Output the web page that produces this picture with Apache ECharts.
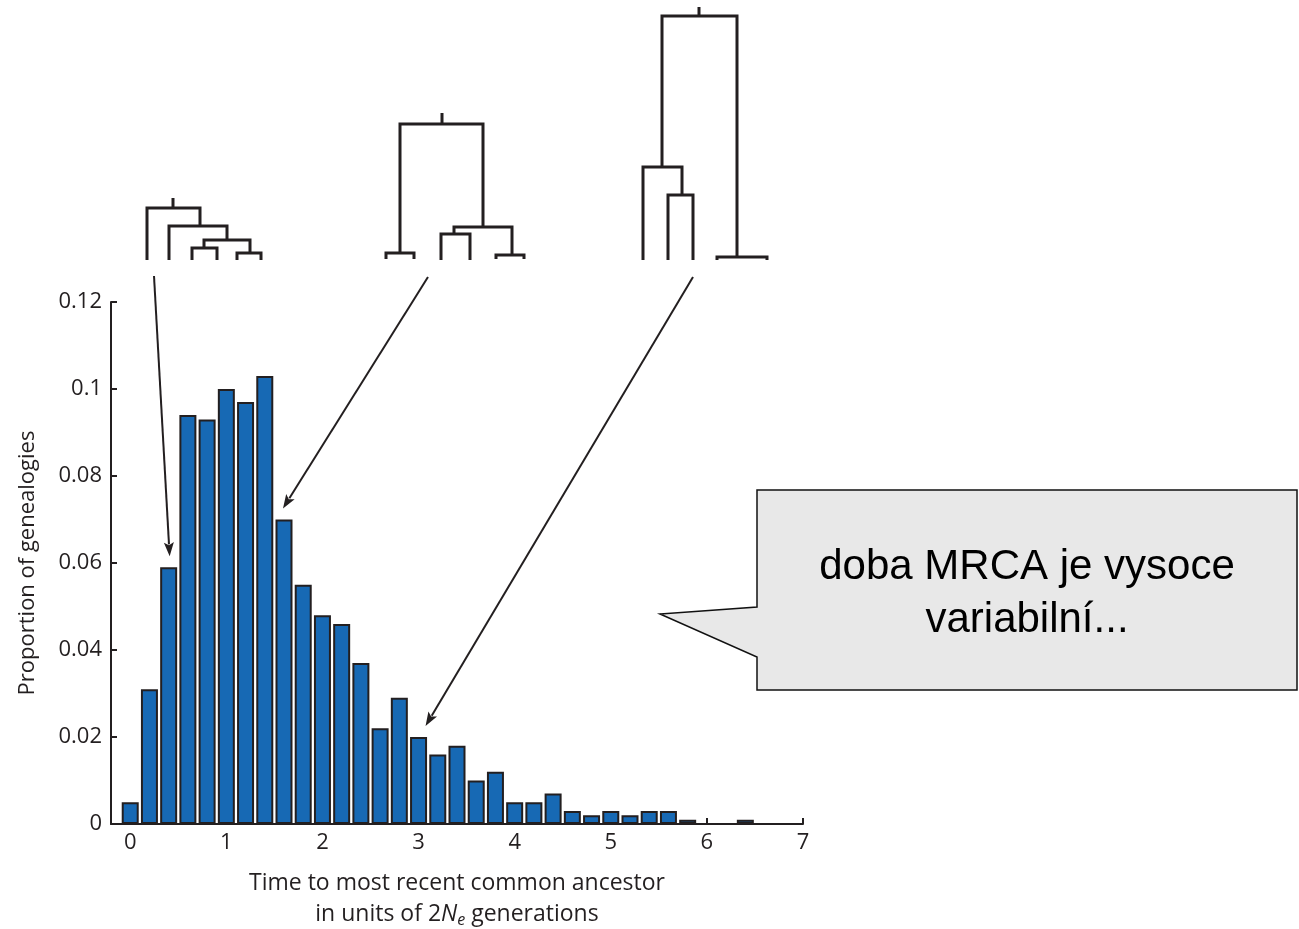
<!DOCTYPE html>
<html>
<head>
<meta charset="utf-8">
<script src="https://cdn.jsdelivr.net/npm/echarts@6/dist/echarts.min.js"></script>
<style>html,body{margin:0;padding:0;background:#fff}#c{width:1299px;height:929px}</style>
</head>
<body>
<div id="c"></div>
<script>
// ---- data ----
const binCenters = [0,0.2,0.4,0.6,0.8,1.0,1.2,1.4,1.6,1.8,2.0,2.2,2.4,2.6,2.8,3.0,3.2,3.4,3.6,3.8,4.0,4.2,4.4,4.6,4.8,5.0,5.2,5.4,5.6,5.8,6.0,6.2,6.4];
const proportions = [0.005,0.031,0.059,0.094,0.093,0.100,0.097,0.103,0.070,0.055,0.048,0.046,0.037,0.022,0.029,0.020,0.016,0.018,0.010,0.012,0.005,0.005,0.007,0.003,0.002,0.003,0.002,0.003,0.003,0.001,0,0,0.001];
const xTickValues = [0,1,2,3,4,5,6,7];
const yTickValues = [0,0.02,0.04,0.06,0.08,0.1,0.12];
const yTitle = 'Proportion of genealogies';
const calloutLines = ['doba MRCA je vysoce', 'variabilní...'];
// bins the arrows point to (index into binCenters)
const arrowTargets = [2, 8, 15];

const chart = echarts.init(document.getElementById('c'), null, {renderer: 'canvas'});
const ink = '#231f20';
const labelFont = 'Open Sans';

const barData = binCenters.map((x, i) => [x, proportions[i]]);

const option = {
  animation: false,
  backgroundColor: '#ffffff',
  grid: {left: 111, right: 496, top: 302, bottom: 105, containLabel: false, outerBoundsMode: 'none'},
  xAxis: {
    type: 'value', min: -0.2, max: 7,
    axisLine: {show: true, onZero: false, lineStyle: {color: ink, width: 2}},
    axisTick: {show: true, inside: true, length: 6, customValues: xTickValues, lineStyle: {color: ink, width: 2}},
    axisLabel: {show: true, customValues: xTickValues, color: ink, fontFamily: labelFont, fontSize: 22, margin: 8},
    splitLine: {show: false},
    name: '{a|Time to most recent common ancestor}\n{a|in units of 2}{i|N}{s|e}{a| generations}',
    nameLocation: 'middle', nameGap: 44,
    nameTextStyle: {
      color: ink, fontFamily: labelFont, fontSize: 23, lineHeight: 31,
      rich: {
        a: {fontFamily: labelFont, fontSize: 23, color: ink, lineHeight: 31},
        i: {fontFamily: labelFont, fontSize: 23, fontStyle: 'italic', color: ink, lineHeight: 31},
        s: {fontFamily: labelFont, fontSize: 16, fontStyle: 'italic', color: ink, padding: [12, 0, 0, 0], lineHeight: 31}
      }
    }
  },
  yAxis: {
    type: 'value', min: 0, max: 0.12, interval: 0.02,
    axisLine: {show: true, onZero: false, lineStyle: {color: ink, width: 2}},
    axisTick: {show: true, inside: true, length: 6, lineStyle: {color: ink, width: 2}},
    axisLabel: {color: ink, fontFamily: labelFont, fontSize: 22, margin: 9,
      formatter: v => (Math.round(v * 100) / 100).toString()},
    splitLine: {show: false},
    name: yTitle, nameLocation: 'middle', nameRotate: 90, nameGap: 72,
    nameTextStyle: {color: ink, fontFamily: labelFont, fontSize: 22}
  },
  series: [{
    type: 'bar',
    data: barData,
    barWidth: 17,
    itemStyle: {color: '#1769b4', borderColor: '#231f20', borderWidth: 2},
    z: 2
  }]
};
chart.setOption(option);

// ---- annotation graphics (trees, arrows, callout) ----
const trees = [
  [[[173,198],[173,208]], [[147,260],[147,208],[200,208],[200,226]], [[169,260],[169,226],[227,226],[227,240]],
   [[204,248],[204,240],[250,240],[250,253]], [[192,260],[192,248],[217,248],[217,260]], [[237,260],[237,253],[261,253],[261,260]]],
  [[[442,113],[442,124]], [[400,253],[400,124],[483,124],[483,227]], [[386,259],[386,253],[414,253],[414,259]],
   [[454,234],[454,227],[512,227],[512,255]], [[441,260],[441,234],[470,234],[470,260]], [[496,259],[496,255],[524,255],[524,259]]],
  [[[699,7],[699,16]], [[662,167],[662,16],[737,16],[737,257]], [[643,260],[643,167],[682,167],[682,195]],
   [[668,260],[668,195],[693,195],[693,260]], [[717,260],[717,257],[767,257],[767,260]]]
];
const arrowStarts = [[154,276],[428,277],[693,277]];
const arrowTipShift = [1, -1, 7];

const graphics = [];
trees.forEach(t => t.forEach(pts => graphics.push({
  type: 'polyline', shape: {points: pts}, style: {stroke: ink, lineWidth: 3, fill: null, lineCap: 'butt', lineJoin: 'miter'}, z: 10
})));

arrowTargets.forEach((bi, k) => {
  const tip = chart.convertToPixel({gridIndex: 0}, [binCenters[bi], proportions[bi]]);
  const ex = tip[0] + arrowTipShift[k], ey = tip[1] - 11;
  const [sx, sy] = arrowStarts[k];
  const dx = ex - sx, dy = ey - sy, L = Math.hypot(dx, dy), ux = dx / L, uy = dy / L;
  const hl = 14, hw = 5;
  const bx = ex - ux * hl, by = ey - uy * hl;
  graphics.push({type: 'line', shape: {x1: sx, y1: sy, x2: bx + ux * 2, y2: by + uy * 2}, style: {stroke: ink, lineWidth: 2}, z: 10});
  graphics.push({type: 'polygon', shape: {points: [[ex, ey], [bx - uy * hw, by + ux * hw], [bx + ux * 3, by + uy * 3], [bx + uy * hw, by - ux * hw]]},
    style: {fill: ink, stroke: null}, z: 10});
});

graphics.push({
  type: 'polygon',
  shape: {points: [[757,490],[1297,490],[1297,690],[757,690],[757,657],[660,614],[757,607]]},
  style: {fill: '#e8e8e8', stroke: '#111111', lineWidth: 1.5}, z: 5
});
calloutLines.forEach((line, i) => graphics.push({
  type: 'text', x: 1027, y: 567 + i * 53,
  style: {text: line, fill: '#000000', font: '42px "Liberation Sans", Arial, sans-serif', textAlign: 'center', textVerticalAlign: 'middle'},
  z: 6
}));

chart.setOption({graphic: graphics});
</script>
</body>
</html>
